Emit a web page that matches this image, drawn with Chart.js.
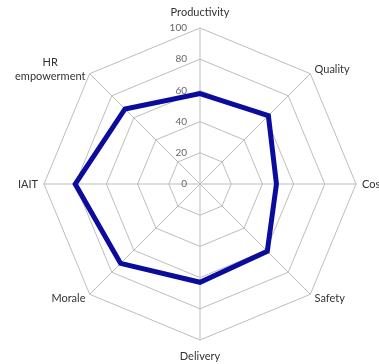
<!DOCTYPE html>
<html lang="en">
<head>
  <meta charset="UTF-8" />
  <title>Radar Chart</title>
  <script src="https://cdn.jsdelivr.net/npm/chart.js"></script>
  <style>
    * { margin: 0; padding: 0; box-sizing: border-box; }
    html, body { width: 379px; height: 364px; overflow: hidden; background: #fff; }
    .wrap { position: absolute; left: 0; top: 0; width: 400px; height: 364px; }
  </style>
</head>
<body>
  <div class="wrap"><canvas id="radar" width="400" height="364"></canvas></div>
  <script>
    const categories = ['Productivity', 'Quality', 'Cost', 'Safety', 'Delivery', 'Morale', 'IAIT', ['HR', 'empowerment']];
    const scores = [58, 62, 49, 61, 63, 72, 80, 68];
    const tickValues = [0, 20, 40, 60, 80, 100];

    // tick numbers just left of the vertical axis, and category names
    // placed beside each spoke end (side labels vertically centred)
    const radarText = {
      id: 'radarText',
      afterDraw(chart) {
        const r = chart.scales.r;
        const ctx = chart.ctx;
        ctx.save();

        ctx.font = '10px Lato';
        ctx.fillStyle = '#666';
        ctx.textAlign = 'right';
        ctx.textBaseline = 'middle';
        tickValues.forEach(v => {
          const d = r.getDistanceFromCenterForValue(v);
          ctx.fillText(String(v), r.xCenter - 13, r.yCenter - d);
        });

        ctx.font = '11px Lato';
        ctx.fillStyle = '#333';
        const lineH = 14;
        categories.forEach((label, i) => {
          const lines = Array.isArray(label) ? label : [label];
          const probe = r.getPointPosition(i, r.drawingArea);
          const dx = probe.x - r.xCenter;
          const dy = probe.y - r.yCenter;
          const vertical = Math.abs(dx) < 1;
          const p = r.getPointPosition(i, r.drawingArea + (vertical ? 9 : 6));
          const widest = Math.max(...lines.map(t => ctx.measureText(t).width));
          let cx = p.x;
          if (!vertical) cx = dx > 0 ? p.x + widest / 2 : p.x - widest / 2;
          let top;
          if (vertical && dy < 0) top = p.y - lines.length * lineH;
          else if (vertical) top = p.y;
          else top = p.y - lines.length * lineH / 2;
          ctx.textAlign = 'center';
          ctx.textBaseline = 'middle';
          lines.forEach((t, k) => ctx.fillText(t, cx, top + lineH * (k + 0.5)));
        });

        ctx.restore();
      }
    };

    new Chart(document.getElementById('radar'), {
      type: 'radar',
      data: {
        labels: categories,
        datasets: [{
          data: scores,
          borderColor: '#0c0c9c',
          borderWidth: 5,
          fill: false,
          pointRadius: 0,
          tension: 0
        }]
      },
      options: {
        responsive: false,
        animation: false,
        layout: { padding: { top: 28, bottom: 24 } },
        plugins: { legend: { display: false }, tooltip: { enabled: false } },
        scales: {
          r: {
            min: 0,
            max: 100,
            afterBuildTicks: axis => { axis.ticks = tickValues.map(v => ({ value: v })); },
            ticks: { display: false },
            pointLabels: { display: false },
            grid: { color: '#bdbdbd', lineWidth: 1 },
            angleLines: { color: '#bdbdbd', lineWidth: 1 }
          }
        }
      },
      plugins: [radarText]
    });
  </script>
</body>
</html>
